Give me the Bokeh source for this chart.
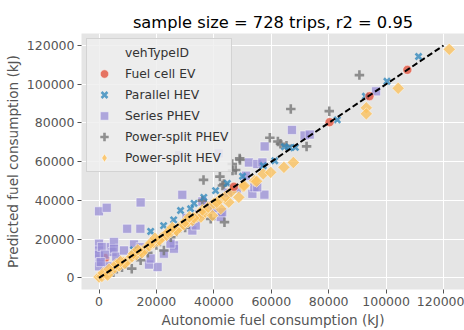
import math
from bokeh.plotting import figure
from bokeh.models import Range1d, FixedTicker, BasicTickFormatter, Legend, LegendItem
from bokeh.embed import file_html
from bokeh.resources import INLINE

title_text = "sample size = 728 trips, r2 = 0.95"
x_label = "Autonomie fuel consumption (kJ)"
y_label = "Predicted fuel consumption (kJ)"
legend_title = "vehTypeID"
categories = ["Fuel cell EV", "Parallel HEV", "Series PHEV", "Power-split PHEV", "Power-split HEV"]
ticks = [0, 20000, 40000, 60000, 80000, 100000, 120000]

# Fuel cell EV
fc_x = [2200, 47000, 80300, 94200, 107400]
fc_y = [10300, 47100, 80400, 93800, 107400]

# Parallel HEV
par_x = [12000, 18000, 22500, 26000, 28400, 31900, 33100, 36500, 40600, 44700, 50000,
         57200, 61200, 64600, 66400, 68400, 83000, 92800, 100300, 111300]
par_y = [14500, 24000, 27000, 30000, 34800, 35700, 38500, 41600, 45100, 48800, 52500,
         57900, 60500, 67700, 67200, 67400, 81600, 93800, 101500, 114300]

# Series PHEV
ser_x = [27900, 41700, 0, 2700, 14500, 29000, 9800, 14400, 67200, 71600, 73400, 96500,
         57700, 52200, 55100, 56900, 53400, 42400, 42900, 32500, 33700, 26100, 26100,
         22600, 20400, 17400, 18000, 24900, 57600, 54100, 51200, 55100,
         0, 0, 0, 0, 300, 1000, 0, 4100, 4700, 5200, 5200, 2000, 12200, 3000, 6000, 8700,
         14500, 600, 35000, 38000, 40000, 45000, 48000, 30500, 36000]
ser_y = [63400, 64300, 34400, 36200, 39000, 42900, 25400, 25400, 76400, 73500, 74000, 96300,
         67900, 59600, 58800, 59600, 43400, 31400, 33900, 24500, 27100, 16800, 15100,
         12500, 5600, 6900, 10000, 17700, 43000, 46800, 52800, 46800,
         17700, 14200, 10000, 12000, 8000, 16000, 6000, 15900, 13400, 18500, 15100, 12000, 17300, 6000, 11000, 14200,
         15900, 8200, 33000, 37500, 36000, 44000, 46000, 31000, 39500]

# Power-split PHEV
psp_x = [63200, 72300, 66800, 80200, 90700, 59500, 62300, 65300, 49000, 46400, 49100, 47600,
         46500, 36400, 42100, 43000, 43500, 38900, 43700, 36000, 11400, 22600, 14500,
         5000, 8000, 17000, 25000, 30000, 33000, 20000, 27000]
psp_y = [69300, 67900, 87200, 86100, 104700, 72400, 70400, 68200, 61700, 58800, 60900, 55700,
         55400, 50600, 52300, 47700, 48500, 30500, 28800, 39900, 4800, 14200, 9100,
         3000, 5500, 13000, 21000, 26000, 30000, 17000, 24000]

# Power-split HEV
psh_x = [0, 1000, 2500, 4000, 5500, 7000, 8500, 10000, 11500, 13000, 14500, 16000, 17500,
         19000, 20500, 22000, 23500, 25000, 26500, 28000, 29500, 31000, 32500, 34000, 35500,
         37000, 39500, 42400, 45200, 48700, 50300, 50500, 54200, 54900, 57200, 59800, 64400,
         67700, 93100, 93100, 104200, 122000,
         1500, 3000, 6000, 9000, 12000, 15000, 18000, 21000, 24000, 27000, 30000, 33000,
         36000, 38000, 40000, 42000, 44000, 46000, 3500, 7500, 13500, 19500, 25500, 31500, 41000]
psh_y = [500, 800, 2000, 3500, 5200, 6200, 8000, 9000, 11000, 12000, 13800, 15000, 16500,
         18200, 19000, 21000, 22000, 23800, 25000, 26200, 27500, 29000, 29700, 31500, 31400,
         34000, 32200, 35700, 39100, 41600, 47100, 47700, 50200, 49900, 53700, 54500, 57100,
         59600, 87800, 84700, 97900, 118000,
         2500, 1500, 7000, 7500, 12500, 13000, 18000, 19500, 23500, 24500, 29000, 31000,
         35000, 36500, 38500, 40500, 42000, 44500, 4500, 8500, 14500, 20500, 26000, 31500, 39000]

# identity reference line
line_x = [0, 120000]
line_y = [0, 120000]

FONT = "DejaVu Sans"

p = figure(width=464, height=330, output_backend="svg", toolbar_location=None,
           x_range=Range1d(-6100, 127300), y_range=Range1d(-5960, 126170),
           min_border_left=81, min_border_right=0, min_border_top=33, min_border_bottom=40)

p.background_fill_color = "#E5E5E5"
p.border_fill_color = "white"
p.outline_line_color = None

p.title.text = title_text
p.title.align = "center"
p.title.text_font = FONT
p.title.text_font_size = "16.3px"
p.title.text_font_style = "normal"
p.title.text_color = "black"
p.title.standoff = 4

for ax, lab in ((p.xaxis, x_label), (p.yaxis, y_label)):
    ax.ticker = FixedTicker(ticks=ticks)
    ax.formatter = BasicTickFormatter(use_scientific=False)
    ax.axis_label = lab
    ax.axis_label_text_font = FONT
    ax.axis_label_text_font_size = "13.6px"
    ax.axis_label_text_font_style = "normal"
    ax.axis_label_text_color = "#555555"
    ax.axis_label_standoff = 3
    ax.major_label_text_font = FONT
    ax.major_label_text_font_size = "12.5px"
    ax.major_label_text_color = "#555555"
    ax.major_label_standoff = 3
    ax.axis_line_color = None
    ax.major_tick_line_color = "#555555"
    ax.major_tick_out = 4
    ax.major_tick_in = 0
    ax.minor_tick_line_color = None

p.grid.grid_line_color = "white"
p.grid.grid_line_width = 1
p.xgrid.ticker = FixedTicker(ticks=ticks)
p.ygrid.ticker = FixedTicker(ticks=ticks)

OFF = [-1e7]
title_r = p.scatter(x=OFF, y=OFF, size=1, alpha=0)

r_fc0 = p.scatter(fc_x[:1], fc_y[:1], marker="circle", size=9, fill_color="#E24A33", fill_alpha=0.75,
                  line_color="white", line_width=0.6, line_alpha=0.8)
r_ser = p.scatter(ser_x, ser_y, marker="square", size=9, fill_color="#988ED5", fill_alpha=0.75,
                  line_color="white", line_width=0.6, line_alpha=0.8)
r_psp = p.scatter(psp_x, psp_y, marker="cross", size=9.5, line_color="#777777", line_width=2.6,
                  line_alpha=0.8)
r_par = p.scatter(par_x, par_y, marker="x", size=8.5, line_color="#348ABD", line_width=2.6,
                  line_alpha=0.8)
r_psh = p.scatter(psh_x, psh_y, marker="square", angle=math.pi / 4, size=8.7, fill_color="#FBC15E",
                  fill_alpha=0.78, line_color="white", line_width=0.6, line_alpha=0.8)
r_fc = p.scatter(fc_x[1:], fc_y[1:], marker="circle", size=9, fill_color="#E24A33", fill_alpha=0.75,
                 line_color="white", line_width=0.6, line_alpha=0.8)
# legend-only diamond handle (kept off-screen)
r_psh_leg = p.scatter(x=OFF, y=OFF, marker="diamond", size=12, fill_color="#FBC15E",
                      fill_alpha=0.85, line_color="white", line_width=0.6)

p.line(line_x, line_y, line_color="black", line_width=2, line_dash="6 3")

legend = Legend(items=[
    LegendItem(label=legend_title, renderers=[title_r]),
    LegendItem(label=categories[0], renderers=[r_fc]),
    LegendItem(label=categories[1], renderers=[r_par]),
    LegendItem(label=categories[2], renderers=[r_ser]),
    LegendItem(label=categories[3], renderers=[r_psp]),
    LegendItem(label=categories[4], renderers=[r_psh_leg]),
], location="top_left", margin=5, padding=3, spacing=-4, label_height=21, glyph_height=21,
    glyph_width=28, label_standoff=7, label_text_font=FONT, label_text_font_size="12.3px",
    label_text_color="#333333", background_fill_color="#EEEEEE", background_fill_alpha=0.85,
    border_line_color="#CCCCCC", border_line_alpha=0.8)
p.add_layout(legend)

open("out.html", "w").write(file_html(p, INLINE))
